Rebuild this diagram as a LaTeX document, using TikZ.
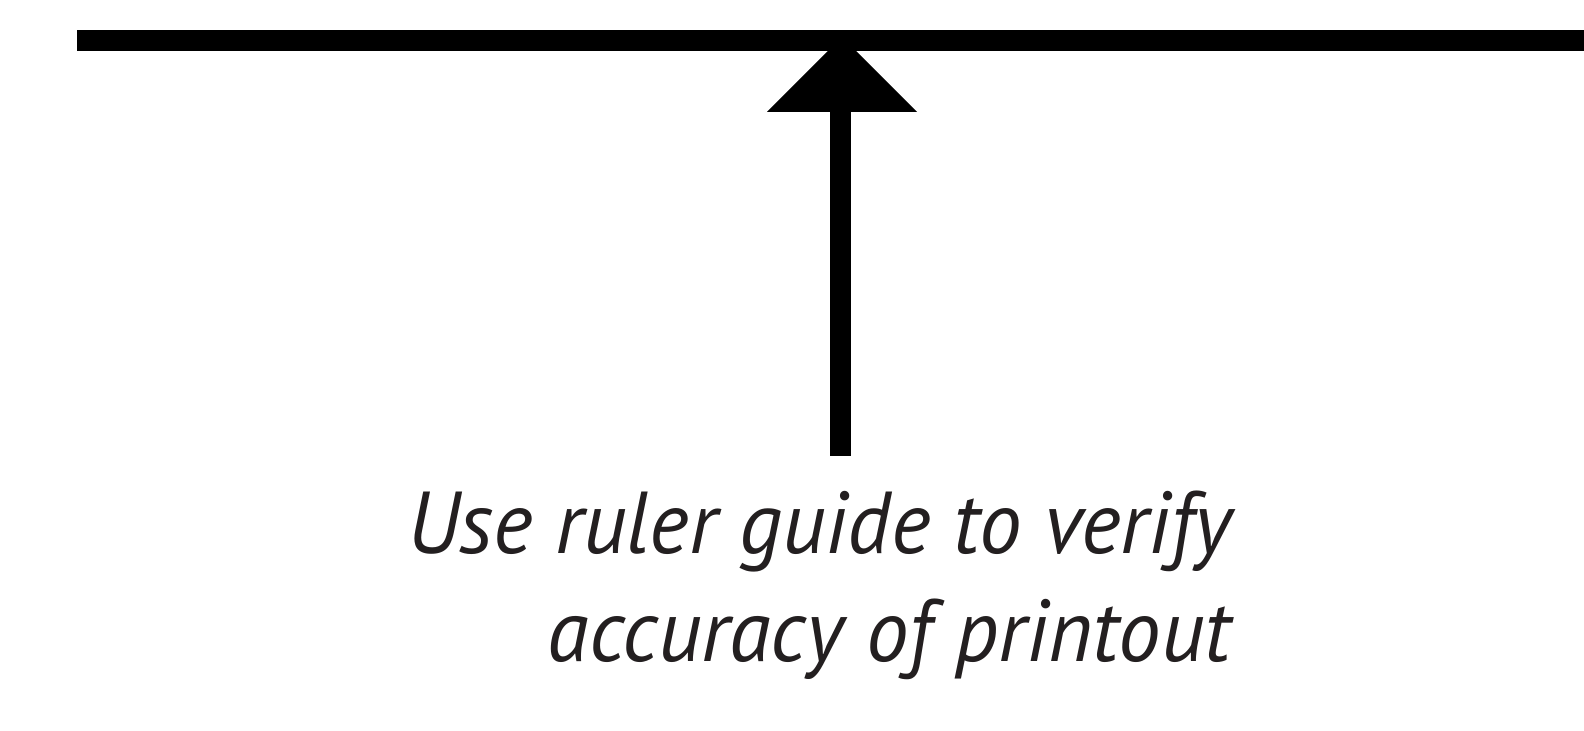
\documentclass[tikz,border=0pt]{standalone}
\usepackage{fontspec}
\newfontfamily\notefont[FakeStretch=0.967]{PT Sans}
\usepackage{tikz}
\usetikzlibrary{positioning}
\usepackage{xcolor}
\definecolor{inkblack}{HTML}{231F20}

\begin{document}
\begin{tikzpicture}

\useasboundingbox (0,0) rectangle (15.84,7.31);

% ruler guide
\coordinate (rulerleft) at (0.77,6.905);
\coordinate (rulerright) at (15.84,6.905);
\draw[black, line width=2.1mm] (rulerleft)--(rulerright);

% arrow
\coordinate (tail) at (8.40,2.75);
\coordinate (headbase) at (8.40,6.19);
\draw[black, line width=2.1mm] (tail)--(headbase);
\fill[black] (7.67,6.19)--++(1.5,0)--++(-0.75,0.75)--cycle;

% note
\node[anchor=base east, inner sep=0pt, text=inkblack] (noteone) at (12.32,1.77) {\notefont\itshape\fontsize{25}{30}\selectfont Use ruler guide to verify};
\node[anchor=base east, inner sep=0pt, text=inkblack] (notetwo) at (12.32,0.69) {\notefont\itshape\fontsize{25}{30}\selectfont accuracy of printout};

\end{tikzpicture}
\end{document}
